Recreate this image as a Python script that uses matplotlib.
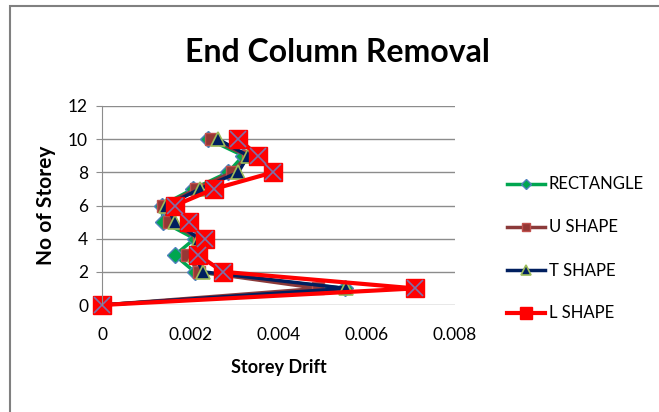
import matplotlib
matplotlib.use("Agg")
import matplotlib.pyplot as plt
from matplotlib.patches import Rectangle

plt.rcParams['font.family'] = ['Lato', 'DejaVu Sans']

storey = [0, 1, 2, 3, 4, 5, 6, 7, 8, 9, 10]
rectangle = [0, 0.0055, 0.0021, 0.00165, 0.0021, 0.00139, 0.00135, 0.00207, 0.00286, 0.0032, 0.00241]
u_shape = [0, 0.0049, 0.0022, 0.00192, 0.0022, 0.00152, 0.00139, 0.00214, 0.00294, 0.0033, 0.00248]
t_shape = [0, 0.00554, 0.00229, 0.0021, 0.0022, 0.00165, 0.00146, 0.00222, 0.00309, 0.00331, 0.00263]
l_shape = [0, 0.00709, 0.00275, 0.00218, 0.00233, 0.00198, 0.00165, 0.00254, 0.00388, 0.00354, 0.00309]

x_ticks = [0, 0.002, 0.004, 0.006, 0.008]
x_labels = ['0', '0.002', '0.004', '0.006', '0.008']
y_ticks = [0, 2, 4, 6, 8, 10, 12]

fig = plt.figure(figsize=(6.59, 4.12), dpi=100)
ax = fig.add_axes([102 / 659, 1 - 305 / 412, (455 - 102) / 659, (305 - 106) / 412])

# chart border
fig.patches.append(Rectangle((10 / 659, -0.01), 1.0, 1 - 6 / 412 + 0.01,
                             transform=fig.transFigure, fill=False,
                             edgecolor='#808080', lw=1.5))

ax.plot(rectangle, storey, color='#00A650', lw=2.5, marker='D', ms=8,
        mfc='#00A650', mec='#4F81BD', mew=1, label='RECTANGLE', clip_on=False)
ax.plot(u_shape, storey, color='#8B3A3A', lw=2.5, marker='s', ms=9,
        mfc='#953735', mec='#C0504D', mew=1, label='U SHAPE', clip_on=False)
ax.plot(t_shape, storey, color='#001F5F', lw=2.5, marker='^', ms=10,
        mfc='#001F5F', mec='#9BBB59', mew=1.2, label='T SHAPE', clip_on=False)
ax.plot(l_shape, storey, color='#FF0000', lw=3, marker='s', ms=13,
        mfc='#FF0000', mec='#FF0000', label='L SHAPE', clip_on=False)
ax.plot(l_shape, storey, lw=0, marker='x', ms=11, mec='#7F6FA8', mew=1.2,
        clip_on=False)

ax.set_xlim(0, 0.008)
ax.set_ylim(0, 12)
ax.set_xticks(x_ticks)
ax.set_xticklabels(x_labels)
ax.set_yticks(y_ticks)
ax.yaxis.grid(True, color='#8C8C8C', lw=1)
ax.set_axisbelow(True)
for s in ['top', 'right', 'bottom']:
    ax.spines[s].set_visible(False)
ax.spines['left'].set_color('#8C8C8C')
ax.tick_params(axis='x', length=0, pad=16, labelsize=12.5)
ax.tick_params(axis='y', length=4, color='#8C8C8C', labelsize=12.5, pad=6)

ax.set_xlabel('Storey Drift', fontsize=13, fontweight='bold', labelpad=11)
ax.set_ylabel('No of Storey', fontsize=15, fontweight='bold', labelpad=9)
fig.text(337 / 659, 1 - 52 / 412, 'End Column Removal', ha='center', va='center',
         fontsize=23, fontweight='bold')

handles, labels = ax.get_legend_handles_labels()
fig.legend(handles, labels, loc='center left', bbox_to_anchor=(492 / 659, 1 - 249 / 412),
           frameon=False, fontsize=12, labelspacing=1.62, handlelength=2.3,
           handletextpad=0.2, markerscale=0.7)

fig.savefig('out.png', dpi=100)
